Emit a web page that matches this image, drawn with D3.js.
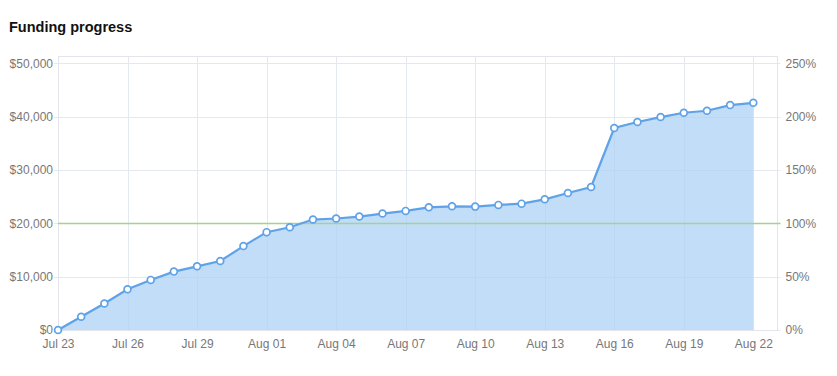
<!DOCTYPE html>
<html>
<head>
<meta charset="utf-8">
<script src="https://cdn.jsdelivr.net/npm/d3@7/dist/d3.min.js"></script>
<style>
  body { margin: 0; background: #fff; font-family: "Liberation Sans", Arial, sans-serif; }
  .axis text { fill: #777; font-size: 12px; font-family: "Liberation Sans", Arial, sans-serif; }
  .axis path { display: none; }
  .grid line { stroke: #e4e8f0; stroke-width: 1; }
</style>
</head>
<body>
<svg id="chart"></svg>
<script>
// Funding data, one value per day
const days = [
  "2014-07-23", "2014-07-24", "2014-07-25", "2014-07-26", "2014-07-27", "2014-07-28",
  "2014-07-29", "2014-07-30", "2014-07-31", "2014-08-01", "2014-08-02", "2014-08-03",
  "2014-08-04", "2014-08-05", "2014-08-06", "2014-08-07", "2014-08-08", "2014-08-09",
  "2014-08-10", "2014-08-11", "2014-08-12", "2014-08-13", "2014-08-14", "2014-08-15",
  "2014-08-16", "2014-08-17", "2014-08-18", "2014-08-19", "2014-08-20", "2014-08-21",
  "2014-08-22"
];
const funded = [
  0, 2480, 4980, 7650, 9390, 10950, 11940, 12930, 15730, 18340, 19270, 20710,
  20900, 21270, 21830, 22330, 23000, 23190, 23130, 23450, 23690, 24500, 25690, 26810,
  37870, 38990, 39920, 40730, 41100, 42160, 42590
];
const goal = 20000;
const xTickDays = [
  "2014-07-23", "2014-07-26", "2014-07-29", "2014-08-01", "2014-08-04", "2014-08-07",
  "2014-08-10", "2014-08-13", "2014-08-16", "2014-08-19", "2014-08-22"
];
const moneyTicks = [0, 10000, 20000, 30000, 40000, 50000];
const percentTicks = [0, 50, 100, 150, 200, 250];

const parseDay = d3.timeParse("%Y-%m-%d");

const config = {
  width: 837,
  height: 376,
  left: 58,
  right: 776.5,
  top: 56,
  bottom: 330,
};

const svg = d3.select("#chart")
  .attr("width", config.width)
  .attr("height", config.height);

const data = days.map((d, i) => ({ date: parseDay(d), value: funded[i] }));

// x domain runs one day past the last point, like the original frame
const xScale = d3.scaleTime()
  .domain([parseDay(days[0]), d3.timeDay.offset(parseDay(days[days.length - 1]), 1)])
  .range([config.left, config.right]);

// $50,000 sits at y=63; frame top a little above it
const yScale = d3.scaleLinear()
  .domain([0, 50000])
  .range([config.bottom, 63.3]);

const pctScale = d3.scaleLinear()
  .domain([0, 250])
  .range([yScale(0), yScale(goal * 2.5)]);

// title
svg.append("text")
  .attr("x", 9)
  .attr("y", 32)
  .attr("font-size", "14.5px")
  .attr("font-weight", "bold")
  .attr("fill", "#111")
  .text("Funding progress");

// grid
const grid = svg.append("g").attr("class", "grid");
grid.selectAll(".hgrid")
  .data(moneyTicks)
  .join("line")
  .attr("class", "hgrid")
  .attr("x1", config.left - 4)
  .attr("x2", config.right + 4)
  .attr("y1", (d) => Math.round(yScale(d)) + 0.5)
  .attr("y2", (d) => Math.round(yScale(d)) + 0.5);

grid.selectAll(".vgrid")
  .data(xTickDays.map(parseDay))
  .join("line")
  .attr("class", "vgrid")
  .attr("x1", (d) => Math.round(xScale(d)) + 0.5)
  .attr("x2", (d) => Math.round(xScale(d)) + 0.5)
  .attr("y1", config.top)
  .attr("y2", config.bottom);

// frame
svg.append("rect")
  .attr("x", config.left + 0.5)
  .attr("y", config.top + 0.5)
  .attr("width", Math.round(config.right - config.left))
  .attr("height", config.bottom - config.top)
  .attr("fill", "none")
  .attr("stroke", "#e3e5ea");

// area + line
const area = d3.area()
  .x((d) => xScale(d.date))
  .y0(yScale(0))
  .y1((d) => yScale(d.value));

const line = d3.line()
  .x((d) => xScale(d.date))
  .y((d) => yScale(d.value));

svg.append("path")
  .datum(data)
  .attr("d", area)
  .attr("fill", "#aed2f5")
  .attr("fill-opacity", 0.75);

// goal line
svg.append("line")
  .attr("x1", config.left)
  .attr("x2", config.right + 4)
  .attr("y1", Math.round(yScale(goal)) + 0.5)
  .attr("y2", Math.round(yScale(goal)) + 0.5)
  .attr("stroke", "#a3d48c")
  .attr("stroke-width", 1.5);

svg.append("path")
  .datum(data)
  .attr("d", line)
  .attr("fill", "none")
  .attr("stroke", "#5fa2e8")
  .attr("stroke-width", 2.2);

svg.selectAll(".dot")
  .data(data)
  .join("circle")
  .attr("class", "dot")
  .attr("cx", (d) => xScale(d.date))
  .attr("cy", (d) => yScale(d.value))
  .attr("r", 3.4)
  .attr("fill", "#fff")
  .attr("stroke", "#5fa2e8")
  .attr("stroke-width", 1.7);

// axes
const fmtMoney = (d) => "$" + d3.format(",")(d);
const yAxisLeft = d3.axisLeft(yScale)
  .tickValues(moneyTicks)
  .tickFormat(fmtMoney)
  .tickSize(0)
  .tickPadding(5);
svg.append("g")
  .attr("class", "axis")
  .attr("transform", `translate(${config.left},0)`)
  .call(yAxisLeft);

const yAxisRight = d3.axisRight(pctScale)
  .tickValues(percentTicks)
  .tickFormat((d) => d + "%")
  .tickSize(0)
  .tickPadding(9);
svg.append("g")
  .attr("class", "axis")
  .attr("transform", `translate(${config.right},0)`)
  .call(yAxisRight);

const xAxis = d3.axisBottom(xScale)
  .tickValues(xTickDays.map(parseDay))
  .tickFormat(d3.timeFormat("%b %d"))
  .tickSize(0)
  .tickPadding(9);
svg.append("g")
  .attr("class", "axis")
  .attr("transform", `translate(0,${config.bottom})`)
  .call(xAxis);
</script>
</body>
</html>
